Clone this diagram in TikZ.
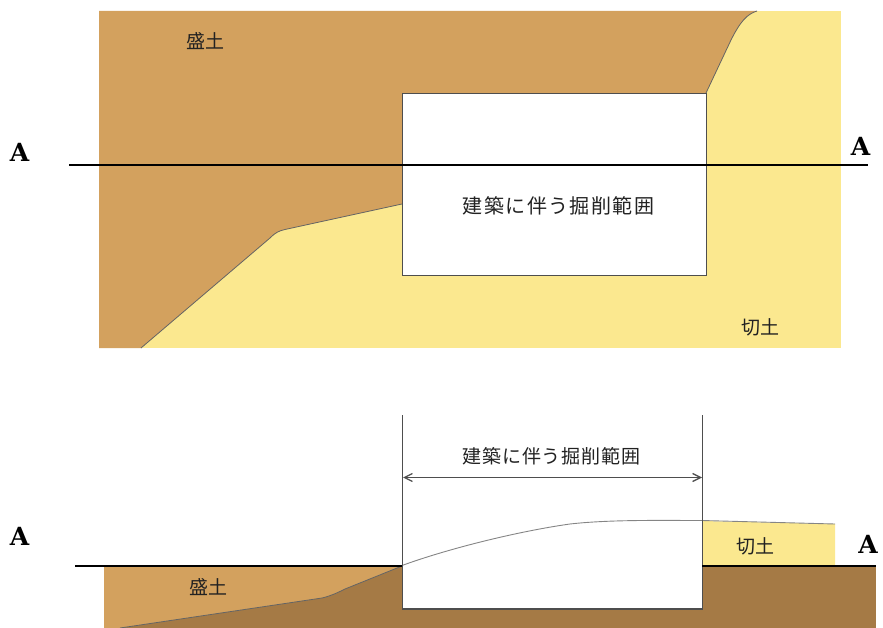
\documentclass[tikz,border=0pt]{standalone}
\usepackage{fontspec}
\newfontfamily\cjk{Noto Sans CJK JP}
\newfontfamily\cjkwide[LetterSpace=7]{Noto Sans CJK JP}
\newfontfamily\cjkmid[LetterSpace=5]{Noto Sans CJK JP}
\newfontfamily\letterfont{DejaVu Serif}
\usetikzlibrary{arrows.meta}
\definecolor{fillbrown}{HTML}{D3A15E}
\definecolor{fillyellow}{HTML}{FBE88F}
\definecolor{fillsoil}{HTML}{A57A45}
\definecolor{inkc}{HTML}{222222}
\tikzset{
  sectionline/.style={draw=black,line width=2pt},
  edgeline/.style={draw=inkc!80,line width=1.3pt},
  boundary/.style={draw=inkc!70,line width=0.8pt},
  letterlabel/.style={inner sep=0pt,font=\letterfont\bfseries\fontsize{25}{25}\selectfont,text=black},
  soillabel/.style={inner sep=0pt,font=\cjk\fontsize{19}{19}\selectfont,text=inkc},
}
\begin{document}
\begin{tikzpicture}[x=1pt,y=-1pt]
\useasboundingbox (0,0) rectangle (883,628);
% ---- plan ----
\fill[fillyellow] (99,11) rectangle (841,348);
\fill[fillbrown] (99,11) -- (757,11) .. controls (747,14) and (740,22) .. (731,40) -- (706,93) -- (402,93) -- (402,204)
  -- (285,229.5) .. controls (279,231) and (276,232) .. (270,238) -- (141,348) -- (99,348) -- cycle;
\draw[boundary] (757,11) .. controls (747,14) and (740,22) .. (731,40) -- (706,93);
\draw[boundary] (402,204) -- (285,229.5) .. controls (279,231) and (276,232) .. (270,238) -- (141,348);
\node[draw=inkc!80,line width=1.3pt,fill=white,minimum width=304pt,minimum height=182pt,inner sep=0pt,anchor=north west] (pit) at (402,93) {};
\coordinate (pl) at (69,165.5);
\coordinate (pr) at (868,165.5);
\draw[sectionline] (pl) -- (pr);
\node[inner sep=0pt,font=\cjkwide\fontsize{20}{20}\selectfont,text=inkc] (pitlabel) at (558.5,206) {建築に伴う掘削範囲};
\node[soillabel] (fill1) at (205.5,41) {盛土};
\node[soillabel] (cut1) at (760,327) {切土};
\node[letterlabel] (a1) at (19.5,152) {A};
\node[letterlabel] (a2) at (860.5,146) {A};
% ---- section ----
\fill[fillsoil] (104,566) rectangle (876,628);
\fill[fillbrown] (104,566) -- (402,566) -- (345,589) .. controls (335,594) and (330,596) .. (322,598) -- (120,628) -- (104,628) -- cycle;
\draw[boundary] (402,566) -- (345,589) .. controls (335,594) and (330,596) .. (322,598) -- (120,628);
\fill[fillyellow] (702,521) -- (835,524) -- (835,566) -- (702,566) -- cycle;
\fill[white] (402,566) rectangle (702,609);
\draw[draw=inkc!55,line width=0.9pt] (402,565.5) .. controls (450,548) and (520,531) .. (570,524) .. controls (610,519.5) and (660,520.5) .. (702,520.5) -- (835,524);
\coordinate (vlt) at (402.5,415);
\coordinate (vlb) at (402.5,609);
\coordinate (vrt) at (702.5,415);
\coordinate (vrb) at (702.5,609);
\draw[edgeline] (vlt) -- (vlb) -- (vrb) -- (vrt);
\coordinate (al) at (403,477.5);
\coordinate (ar) at (702,477.5);
\draw[edgeline,{Straight Barb[length=8pt,width=8pt]}-{Straight Barb[length=8pt,width=8pt]}] (al) -- (ar);
\coordinate (sl1) at (75,565.5);
\coordinate (sl2) at (402,565.5);
\coordinate (sr1) at (702,565.5);
\coordinate (sr2) at (876,565.5);
\draw[sectionline] (sl1) -- (sl2);
\draw[sectionline] (sr1) -- (sr2);
\node[inner sep=0pt,font=\cjkmid\fontsize{19}{19}\selectfont,text=inkc] (pitlabel2) at (551.5,456.5) {建築に伴う掘削範囲};
\node[soillabel] (fill2) at (208.5,587) {盛土};
\node[soillabel] (cut2) at (755.5,546) {切土};
\node[letterlabel] (a3) at (19.5,536) {A};
\node[letterlabel] (a4) at (868,544) {A};
\end{tikzpicture}
\end{document}
